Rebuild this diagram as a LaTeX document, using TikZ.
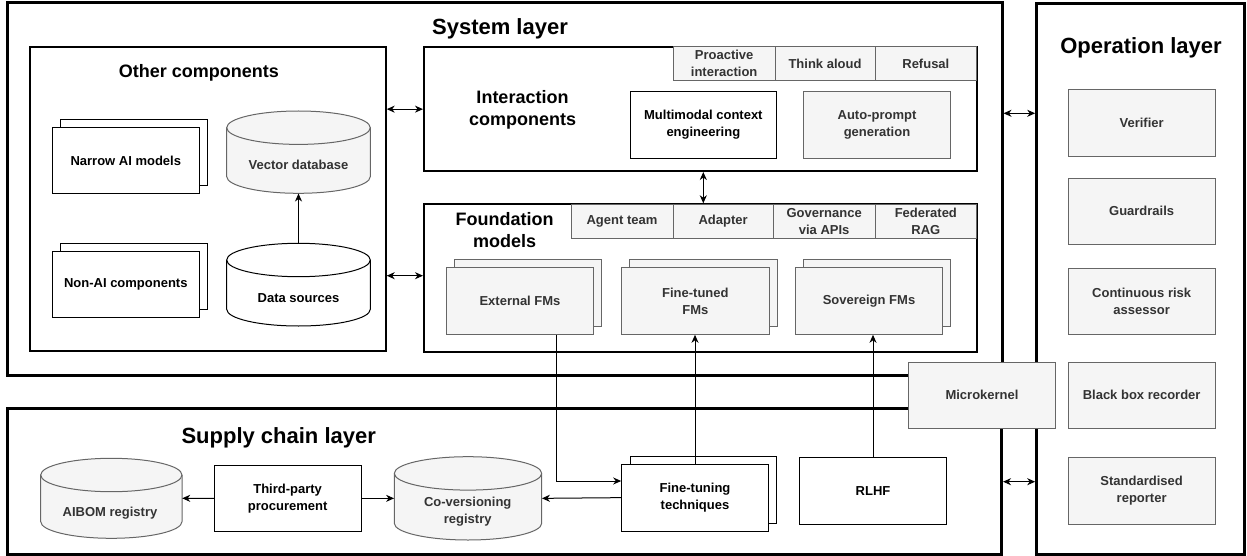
\documentclass[tikz,border=0pt]{standalone}
\usepackage{fontspec}
\setmainfont{Liberation Sans}
\usetikzlibrary{arrows.meta}
\definecolor{gfill}{HTML}{F5F5F5}
\definecolor{gline}{HTML}{666666}
\definecolor{gtext}{HTML}{333333}
\newcommand\mycyl[5]{%
  \path[#1] (#2,{#3+16.7}) -- (#2,{#5-16.7})
    arc[start angle=180,end angle=360,x radius={(#4-#2)/2*1pt},y radius=16.7pt]
    -- (#4,{#3+16.7})
    arc[start angle=0,end angle=180,x radius={(#4-#2)/2*1pt},y radius=16.7pt] -- cycle;
  \path[#1,fill=none] (#2,{#3+16.7})
    arc[start angle=180,end angle=360,x radius={(#4-#2)/2*1pt},y radius=16.7pt];
}
% \rbox{style}{name}{x1}{y1}{x2}{y2}{text}
\newcommand\rbox[7]{%
  \node[#1, minimum width={(#5-#3)*1pt}, minimum height={(#6-#4)*1pt}]
    (#2) at ({(#3+#5)/2},{(#4+#6)/2}) {#7};
}
\begin{document}
\begin{tikzpicture}[x=1pt,y=-1pt,
  sm/.style={font=\bfseries\fontsize{13}{17}\selectfont, align=center},
  box/.style={draw=black, line width=1pt, fill=white, inner sep=0pt, sm},
  gbox/.style={box, draw=gline, fill=gfill, text=gtext},
  anchorbox/.style={draw=none, inner sep=0pt},
  layer/.style={draw=black, line width=3pt, inner sep=0pt},
  group/.style={draw=black, line width=2pt, inner sep=0pt},
  bigtitle/.style={font=\bfseries\fontsize{22}{26}\selectfont},
  midtitle/.style={font=\bfseries\fontsize{18}{22}\selectfont, align=center},
  cylw/.style={draw=black, line width=1pt, fill=white},
  cylg/.style={draw=gline, line width=1pt, fill=gfill},
  tip/.tip={Stealth[length=8pt,width=7pt,inset=2.5pt]},
  conn/.style={line width=1pt, -tip},
  biconn/.style={line width=1pt, tip-tip},
]
\useasboundingbox (0,0) rectangle (1247,556);

% ---------- layers ----------
\rbox{layer}{sys}{7}{3}{1002}{375}{}
\node[bigtitle] (systitle) at (500,29.3) {System layer};
\rbox{layer}{sup}{7.3}{408.3}{1001.5}{554}{}
\node[bigtitle] (suptitle) at (278.7,438.3) {Supply chain layer};
\rbox{layer}{op}{1036.7}{3.3}{1244}{554.3}{}
\node[bigtitle] (optitle) at (1141,47.7) {Operation layer};

% ---------- other components ----------
\rbox{group}{oc}{30}{47.3}{385.7}{350.7}{}
\node[midtitle] (octitle) at (199,72.7) {Other components};
\rbox{box}{nab}{60.3}{119.7}{207.3}{186}{}
\rbox{box}{na}{52.3}{127.7}{199.3}{194}{Narrow AI models}
\rbox{box}{nonb}{60.3}{243}{207.3}{309.7}{}
\rbox{box}{non}{52.3}{251}{199.3}{317.7}{Non-AI components}
\mycyl{cylg}{226.7}{111}{370.3}{193.3}
\rbox{anchorbox}{vdb}{226.7}{111}{370.3}{193.3}{}
\node[sm, text=gtext] (vdbt) at (298.5,165) {Vector database};
\mycyl{cylw}{226.7}{243.3}{370.3}{326}
\rbox{anchorbox}{ds}{226.7}{243.3}{370.3}{326}{}
\node[sm] (dst) at (298.5,297.7) {Data sources};

% ---------- interaction components ----------
\rbox{group}{ic}{424}{47.3}{976.7}{171}{}
\node[midtitle] (ictitle) at (522.5,110) {Interaction\\components};
\rbox{gbox}{pro}{673.3}{46.7}{775}{80.7}{Proactive\\interaction}
\rbox{gbox}{think}{775}{46.7}{875}{80.7}{Think aloud}
\rbox{gbox}{ref}{875}{46.7}{976.7}{80.7}{Refusal}
\rbox{box}{mm}{630}{91.7}{776.7}{158.3}{Multimodal context\\engineering}
\rbox{gbox}{ap}{803.3}{91.7}{950.7}{158.3}{Auto-prompt\\generation}

% ---------- foundation models ----------
\rbox{group}{fm}{424}{204.3}{976.7}{351.7}{}
\node[midtitle] (fmtitle) at (504.7,230.5) {Foundation\\models};
\rbox{gbox}{agent}{571}{204.3}{673}{238.3}{Agent team}
\rbox{gbox}{adapt}{673}{204.3}{773.3}{238.3}{Adapter}
\rbox{gbox}{gov}{773.3}{204.3}{875}{238.3}{Governance\\via APIs}
\rbox{gbox}{frag}{875}{204.3}{976.7}{238.3}{Federated\\RAG}
\rbox{gbox}{extb}{454.7}{259.7}{601.3}{326.3}{}
\rbox{gbox}{ext}{446.7}{267.7}{593.3}{334.3}{External FMs}
\rbox{gbox}{ftdb}{629.7}{259.7}{777}{326.3}{}
\rbox{gbox}{ftd}{621.7}{267.7}{769}{334.3}{Fine-tuned\\FMs}
\rbox{gbox}{sovb}{803.7}{259.7}{950.3}{326.3}{}
\rbox{gbox}{sov}{795.7}{267.7}{942.3}{334.3}{Sovereign FMs}

% ---------- operation layer ----------
\rbox{gbox}{ver}{1068.3}{90}{1215}{156.7}{Verifier}
\rbox{gbox}{guard}{1068.3}{178.3}{1215}{244.3}{Guardrails}
\rbox{gbox}{cra}{1068.3}{268.3}{1215}{334.3}{Continuous risk\\assessor}
\rbox{gbox}{bbr}{1068.3}{362}{1215}{428.7}{Black box recorder}
\rbox{gbox}{rep}{1068.3}{457.7}{1215}{524.3}{Standardised\\reporter}

% ---------- supply chain layer ----------
\mycyl{cylg}{40.7}{458.3}{182}{538.3}
\rbox{anchorbox}{aibom}{40.7}{458.3}{182}{538.3}{}
\node[sm, text=gtext] (aibomt) at (110,513.3) {AIBOM registry};
\rbox{box}{proc}{214.3}{465}{361}{531.7}{Third-party\\procurement}
\mycyl{cylg}{394.3}{456.7}{541.7}{540}
\rbox{anchorbox}{cov}{394.3}{456.7}{541.7}{540}{}
\node[sm, text=gtext] (covt) at (467.7,512) {Co-versioning\\registry};
\rbox{box}{ftb}{630}{456.7}{776.7}{523.3}{}
\rbox{box}{ft}{621.7}{464.3}{768.3}{531}{Fine-tuning\\techniques}
\rbox{box}{rlhf}{799.3}{457.7}{946.7}{524.3}{RLHF}

% ---------- connectors ----------
\draw[conn] (ds.north) -- (vdb.south);
\draw[biconn] (oc.east |- ic.west) -- (ic.west);
\draw[biconn] (oc.east |- 0,275.7) -- (fm.west |- 0,275.7);
\draw[biconn] (ic.south -| 703.3,0) -- (fm.north -| 703.3,0);
\draw[biconn] (sys.east |- 0,113.3) -- (op.west |- 0,113.3);
\draw[biconn] (sup.east |- 0,481.7) -- (op.west |- 0,481.7);
\draw[conn] (ext.south -| 556.7,0) -- (556.7,481) -- (ft.west |- 0,481);
\draw[conn] (ft.north) -- (ft.north |- ftd.south);
\draw[conn] (rlhf.north) -- (rlhf.north |- sov.south);
\draw[conn] (ft.west) -- (cov.east);
\draw[conn] (proc.west) -- (aibom.east);
\draw[conn] (proc.east) -- (cov.west);

% ---------- microkernel on top ----------
\rbox{gbox}{mk}{908.3}{362}{1055.7}{428.7}{Microkernel}
\end{tikzpicture}
\end{document}
